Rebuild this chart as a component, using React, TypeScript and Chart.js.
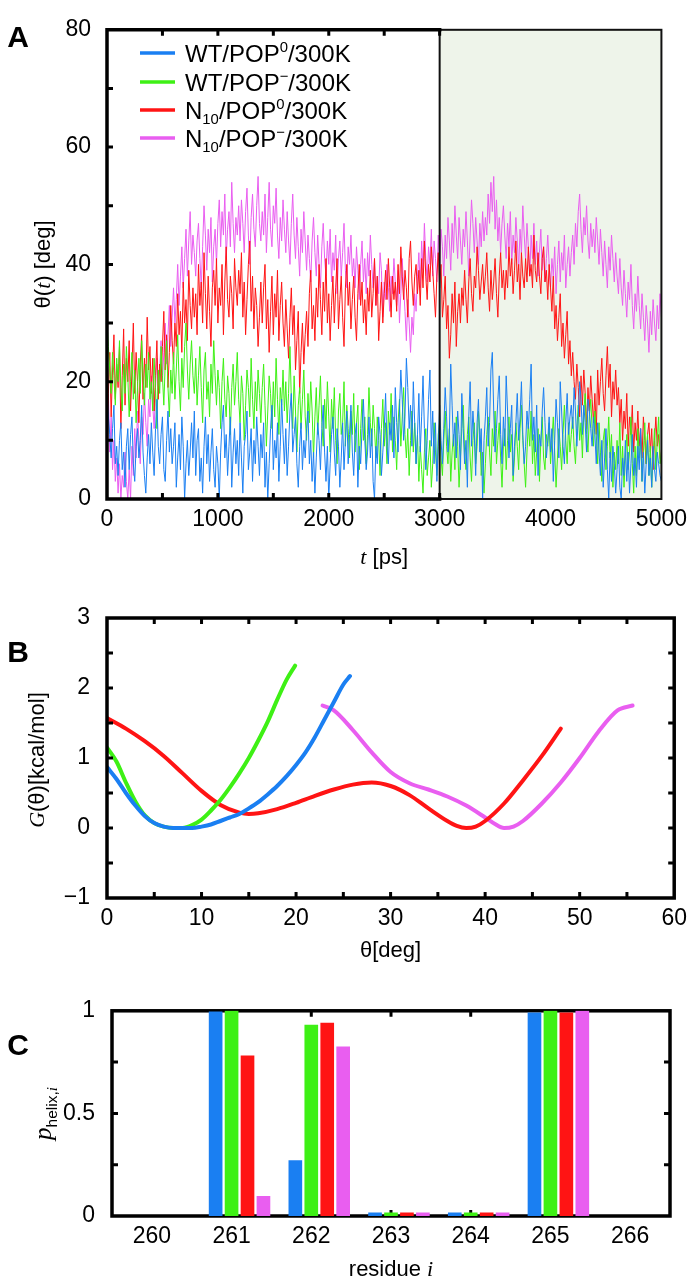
import React, { useEffect, useRef } from 'react';
import { Chart, registerables } from 'chart.js';

Chart.register(...registerables);

const FONT = '"Liberation Sans", Arial, Helvetica, sans-serif';
const SERIF = '"Liberation Serif", "Times New Roman", serif';

const COLORS = ['#1a7ff2', '#3ef015', '#ff1414', '#e95ef0'];
const SHADE = '#eef4ea';

// ---------- Panel A : theta(t) ----------
const TIME_STEP_PS = 12.5;
const SHADE_FROM = 3000;
const SHADE_TO = 5000;
const thetaWT0 = [
  18, 14, 11, 7, 12, 16, 6, 9, 4, 10, 13, 5, 8, 2, 9, 12,
  5, 11, 14, 6, 3, 9, 12, 7, 10, 16, 8, 4, 1, 7, 11, 6,
  13, 8, 4, 12, 17, 9, 6, 11, 14, 5, 3, 10, 15, 8, 12, 6,
  9, 13, 2, 7, 11, 5, 14, 9, 0, 6, 10, 4, 8, 13, 7, 15,
  4, 10, 12, 3, 7, 1, 9, 14, 6, 11, 3, 8, 12, 5, 2, 9,
  6, 0, 8, 13, 16, 7, 11, 4, 9, 14, 2, 8, 12, 6, 10, 4,
  13, 7, 1, 9, 11, 15, 5, 8, 12, 3, 10, 6, 14, 9, 4, 11,
  7, 13, 2, 8, 0, 6, 12, 16, 5, 10, 7, 13, 3, 9, 17, 11,
  6, 12, 4, 9, 15, 18, 8, 11, 14, 6, 2, 9, 13, 5, 10, 7,
  12, 15, 6, 10, 3, 8, 1, 7, 13, 10, 5, 12, 16, 8, 3, 9,
  0, 6, 11, 14, 8, 4, 12, 9, 2, 7, 13, 5, 10, 15, 6, 11,
  16, 8, 4, 11, 13, 2, 9, 6, 12, 17, 10, 5, 8, 14, 7, 12,
  3, 0, 9, 6, 14, 11, 4, 8, 12, 18, 9, 6, 13, 10, 16, 7,
  19, 13, 8, 15, 22, 17, 10, 14, 24, 19, 12, 16, 9, 20, 13, 6,
  11, 18, 8, 14, 21, 12, 5, 10, 17, 22, 9, 15, 6, 13, 3, 9,
  16, 10, 6, 12, 19, 14, 8, 11, 23, 16, 9, 13, 7, 15, 11, 5,
  18, 12, 6, 10, 2, 14, 20, 9, 15, 11, 4, 13, 17, 8, 12, 0,
  10, 14, 19, 9, 13, 22, 25, 15, 8, 12, 17, 21, 11, 6, 14, 9,
  21, 15, 7, 12, 16, 4, 9, 13, 18, 10, 14, 20, 11, 6, 9, 15,
  12, 17, 23, 10, 14, 8, 16, 4, 11, 9, 15, 19, 13, 7, 10, 14,
  8, 12, 3, 10, 17, 13, 7, 20, 15, 9, 6, 13, 18, 11, 14, 16,
  12, 19, 15, 9, 14, 20, 17, 11, 16, 13, 8, 17, 15, 12, 9, 14,
  11, 6, 13, 8, 4, 10, 2, 7, 12, 5, 0, 8, 3, 9, 6, 1,
  5, 9, 2, 0, 7, 4, 10, 3, 8, 1, 6, 11, 4, 7, 2, 9,
  5, 12, 3, 8, 1, 6, 10, 4, 7, 2, 9, 5, 3, 8, 6, 4,
  3,
];
const thetaWTm = [
  30, 26, 22, 18, 25, 21, 16, 24, 20, 27, 19, 15, 23, 18, 26, 21,
  14, 20, 25, 17, 22, 13, 19, 24, 18, 27, 21, 16, 23, 19, 25, 17,
  20, 15, 24, 19, 12, 22, 18, 26, 21, 16, 23, 27, 19, 14, 22, 18,
  25, 17, 22, 28, 20, 15, 24, 19, 26, 30, 22, 17, 23, 27, 21, 18,
  24, 16, 21, 26, 19, 13, 22, 25, 17, 20, 14, 23, 18, 27, 21, 16,
  22, 19, 12, 20, 24, 17, 14, 21, 18, 11, 19, 23, 16, 20, 25, 17,
  13, 21, 18, 10, 16, 22, 19, 14, 24, 17, 12, 20, 15, 22, 18, 13,
  19, 23, 16, 9, 15, 21, 18, 12, 20, 14, 24, 17, 11, 19, 16, 22,
  15, 20, 13, 18, 26, 17, 12, 21, 15, 8, 16, 19, 12, 17, 22, 14,
  10, 18, 13, 20, 15, 7, 14, 19, 11, 16, 21, 13, 9, 17, 12, 20,
  14, 8, 17, 12, 19, 10, 6, 15, 18, 11, 13, 20, 9, 16, 12, 7,
  15, 11, 18, 8, 13, 16, 5, 12, 17, 10, 14, 6, 11, 19, 13, 9,
  16, 12, 7, 14, 10, 4, 12, 17, 9, 13, 6, 15, 11, 18, 8, 14,
  10, 5, 13, 17, 9, 14, 19, 11, 7, 12, 4, 10, 15, 8, 13, 6,
  11, 3, 9, 5, 1, 8, 12, 4, 7, 10, 2, 6, 13, 8, 4, 11,
  13, 7, 4, 10, 15, 9, 6, 12, 3, 8, 11, 5, 14, 9, 2, 7,
  12, 16, 8, 5, 11, 14, 7, 3, 10, 13, 6, 9, 15, 11, 4, 8,
  1, 6, 11, 14, 8, 4, 12, 9, 15, 6, 10, 13, 7, 2, 9, 12,
  5, 10, 14, 8, 11, 3, 7, 13, 9, 5, 12, 16, 10, 6, 2, 8,
  13, 9, 15, 6, 11, 4, 8, 12, 3, 10, 14, 7, 5, 11, 9, 13,
  6, 10, 14, 8, 2, 7, 12, 9, 5, 11, 16, 10, 6, 13, 8, 11,
  14, 9, 6, 12, 16, 10, 13, 7, 15, 18, 11, 8, 14, 17, 12, 9,
  15, 11, 6, 13, 8, 3, 10, 12, 5, 9, 14, 7, 11, 2, 8, 5,
  10, 6, 13, 4, 9, 2, 7, 11, 5, 8, 14, 6, 1, 9, 4, 12,
  7, 10, 3, 8, 13, 6, 11, 4, 9, 2, 7, 12, 5, 10, 14, 6,
  8,
];
const thetaN0 = [
  5, 18, 25, 14, 22, 28, 17, 23, 19, 26, 12, 21, 29, 16, 24, 20,
  27, 15, 22, 30, 18, 25, 20, 13, 23, 28, 17, 24, 19, 31, 22, 26,
  18, 24, 15, 21, 27, 17, 23, 20, 26, 32, 22, 28, 19, 25, 33, 27,
  23, 30, 26, 35, 28, 32, 25, 37, 30, 34, 27, 39, 33, 29, 36, 31,
  35, 28, 40, 33, 37, 30, 42, 35, 29, 38, 32, 26, 36, 39, 33, 41,
  30, 36, 33, 40, 28, 37, 43, 34, 31, 38, 35, 29, 41, 36, 33, 39,
  35, 42, 31, 37, 28, 34, 40, 44, 32, 38, 29, 36, 33, 26, 31, 37,
  30, 36, 40, 29, 34, 25, 32, 38, 28, 35, 31, 39, 27, 33, 37, 30,
  26, 34, 29, 24, 31, 36, 28, 33, 22, 27, 32, 18, 25, 30, 23, 28,
  32, 26, 35, 39, 29, 33, 27, 36, 31, 40, 34, 28, 37, 32, 41, 30,
  35, 27, 33, 38, 30, 36, 41, 29, 34, 38, 31, 26, 36, 40, 33, 37,
  29, 34, 38, 31, 27, 35, 40, 33, 37, 30, 34, 28, 36, 32, 39, 31,
  35, 41, 33, 38, 27, 32, 37, 30, 35, 39, 34, 41, 36, 31, 38, 34,
  37, 32, 40, 35, 43, 38, 34, 39, 36, 31, 41, 44, 37, 33, 38, 40,
  35, 39, 33, 41, 36, 44, 38, 34, 40, 37, 43, 39, 35, 31, 38, 42,
  36, 40, 31, 34, 38, 29, 33, 24, 28, 35, 30, 37, 26, 32, 35, 30,
  36, 33, 39, 34, 30, 37, 41, 35, 32, 38, 36, 43, 39, 34, 37, 40,
  35, 38, 42, 36, 32, 39, 34, 37, 41, 35, 31, 38, 42, 36, 39, 34,
  39, 36, 43, 38, 41, 35, 39, 44, 37, 40, 34, 42, 38, 36, 41, 37,
  43, 38, 40, 36, 45, 39, 37, 42, 38, 35, 41, 43, 37, 39, 34, 40,
  36, 32, 38, 29, 33, 27, 31, 35, 26, 30, 24, 28, 32, 23, 27, 21,
  25, 20, 17, 23, 19, 14, 21, 16, 22, 18, 12, 19, 15, 21, 17, 13,
  18, 11, 22, 16, 20, 24, 18, 15, 21, 26, 19, 23, 14, 20, 17, 22,
  16, 19, 13, 17, 10, 15, 12, 18, 9, 14, 11, 16, 8, 13, 10, 15,
  9, 12, 7, 14, 10, 6, 11, 13, 8, 12, 5, 10, 14, 9, 11, 7,
  6,
];
const thetaNm = [
  12, 18, 8, 14, 5, 10, 3, 7, 1, 6, 0, 4, 2, 8, 3, 0,
  5, 0, 9, 4, 12, 7, 15, 10, 6, 14, 11, 18, 13, 9, 17, 14,
  21, 16, 12, 19, 24, 18, 22, 27, 20, 25, 30, 23, 28, 33, 26, 31,
  36, 30, 34, 40, 33, 38, 43, 36, 41, 46, 38, 44, 49, 40, 45, 42,
  38, 44, 47, 41, 36, 43, 50, 45, 39, 46, 42, 48, 37, 43, 46, 40,
  47, 51, 43, 49, 45, 52, 41, 46, 49, 43, 54, 47, 42, 48, 45, 50,
  44, 51, 47, 42, 49, 53, 45, 40, 48, 52, 46, 43, 50, 55, 47, 44,
  49, 45, 52, 42, 48, 54, 46, 43, 50, 47, 53, 45, 41, 48, 44, 51,
  46, 42, 49, 44, 40, 47, 52, 45, 41, 48, 43, 38, 46, 42, 49, 44,
  39, 45, 41, 37, 44, 48, 42, 38, 45, 40, 36, 43, 47, 41, 38, 44,
  40, 46, 37, 42, 39, 45, 35, 41, 44, 38, 42, 47, 39, 36, 43, 40,
  45, 38, 41, 36, 43, 39, 34, 40, 44, 37, 41, 35, 42, 38, 45, 40,
  36, 41, 33, 38, 35, 42, 39, 31, 37, 34, 40, 36, 32, 38, 35, 41,
  37, 33, 39, 30, 35, 41, 36, 32, 27, 34, 30, 25, 31, 28, 35, 32,
  38, 42, 36, 44, 39, 47, 41, 37, 43, 40, 46, 38, 44, 41, 37, 45,
  40, 46, 43, 38, 45, 41, 48, 44, 39, 47, 42, 50, 45, 41, 48, 44,
  40, 46, 43, 49, 44, 38, 45, 51, 47, 42, 48, 44, 40, 47, 43, 49,
  44, 48, 45, 52, 47, 54, 49, 55, 46, 51, 44, 48, 42, 47, 50, 45,
  41, 47, 43, 49, 40, 45, 42, 48, 44, 39, 46, 42, 50, 45, 41, 47,
  43, 38, 45, 41, 47, 40, 44, 38, 42, 46, 39, 43, 37, 41, 45, 40,
  36, 41, 38, 43, 35, 40, 44, 37, 42, 39, 45, 36, 40, 43, 38, 42,
  45, 40, 47, 43, 49, 52, 46, 42, 48, 45, 50, 44, 41, 47, 43, 46,
  42, 48, 44, 40, 46, 42, 38, 44, 40, 36, 43, 39, 45, 41, 37, 42,
  38, 35, 41, 36, 33, 39, 35, 31, 37, 34, 40, 33, 29, 35, 32, 38,
  33, 29, 35, 31, 27, 33, 30, 25, 32, 28, 34, 30, 27, 33, 29, 35,
  31,
];
const A_SERIES = [thetaWT0, thetaWTm, thetaN0, thetaNm];
const A_X_TICK_MARKS = [500, 1000, 1500, 2000, 2500, 3000];
const A_Y_TICK_MARKS = [10, 20, 30, 40, 50, 60, 70];

// ---------- Panel B : G(theta) ----------
const bThetaWT0 = [0, 1, 2, 3, 4, 5, 6, 7, 8, 9, 10, 11, 12, 13, 14, 15, 16, 17, 18, 19, 20, 21, 22, 23, 24, 25, 25.7];
const bGWT0 = [0.87, 0.7, 0.5, 0.32, 0.17, 0.07, 0.02, 0.0, 0.0, 0.0, 0.02, 0.05, 0.1, 0.15, 0.2, 0.28, 0.37, 0.48, 0.6, 0.74, 0.9, 1.08, 1.3, 1.55, 1.8, 2.05, 2.17];
const bThetaWTm = [0, 1, 2, 3, 4, 5, 6, 7, 8, 9, 10, 11, 12, 13, 14, 15, 16, 17, 18, 19, 19.9];
const bGWTm = [1.15, 0.95, 0.65, 0.38, 0.18, 0.07, 0.02, 0.0, 0.0, 0.04, 0.12, 0.25, 0.4, 0.58, 0.78, 1.0, 1.25, 1.52, 1.83, 2.12, 2.32];
const bThetaN0 = [0, 2, 4, 6, 8, 10, 12, 14, 15, 16, 18, 20, 22, 24, 26, 28, 30, 32, 34, 36, 37, 38, 39, 40, 42, 44, 46, 48];
const bGN0 = [1.57, 1.42, 1.24, 1.03, 0.78, 0.53, 0.33, 0.22, 0.2, 0.21, 0.27, 0.36, 0.46, 0.55, 0.62, 0.65, 0.6, 0.47, 0.28, 0.1, 0.03, 0.0, 0.02, 0.1, 0.35, 0.68, 1.03, 1.42];
const bThetaNm = [22.8, 24, 26, 28, 30, 32, 34, 36, 38, 40, 41, 42, 43, 44, 46, 48, 50, 52, 54, 55.6];
const bGNm = [1.75, 1.68, 1.4, 1.08, 0.8, 0.64, 0.55, 0.45, 0.32, 0.15, 0.06, 0.0, 0.02, 0.1, 0.35, 0.65, 1.0, 1.38, 1.68, 1.75];
const B_X = [bThetaWT0, bThetaWTm, bThetaN0, bThetaNm];
const B_Y = [bGWT0, bGWTm, bGN0, bGNm];
const B_X_TICK_MARKS = [5, 10, 15, 20, 25, 30, 35, 40, 45, 50, 55];
const B_Y_TICK_MARKS = [-0.5, 0, 0.5, 1, 1.5, 2, 2.5];

// ---------- Panel C : p_helix ----------
const residues = [261, 262, 263, 264, 265];
const pHelixWT0 = [0.995, 0.27, 0.015, 0.015, 0.99];
const pHelixWTm = [1.0, 0.93, 0.015, 0.015, 1.0];
const pHelixN0 = [0.78, 0.94, 0.015, 0.015, 0.99];
const pHelixNm = [0.096, 0.825, 0.015, 0.015, 1.0];
const C_SERIES = [pHelixWT0, pHelixWTm, pHelixN0, pHelixNm];
const C_BAR_OFFSETS = [-0.2, 0, 0.2, 0.4];
const C_X_TICK_MARKS = [261, 262, 263, 264, 265];
const C_Y_TICK_MARKS = [0.25, 0.5, 0.75];

type Part = { t: string; italic?: boolean; serif?: boolean; sup?: boolean; sub?: boolean; bold?: boolean };

const LEGEND: Part[][] = [
  [{ t: 'WT/POP' }, { t: '0', sup: true }, { t: '/300K' }],
  [{ t: 'WT/POP' }, { t: '\u2212', sup: true }, { t: '/300K' }],
  [{ t: 'N' }, { t: '10', sub: true }, { t: '/POP' }, { t: '0', sup: true }, { t: '/300K' }],
  [{ t: 'N' }, { t: '10', sub: true }, { t: '/POP' }, { t: '\u2212', sup: true }, { t: '/300K' }],
];

function drawRich(ctx: CanvasRenderingContext2D, parts: Part[], x: number, y: number, size: number, rotate = false, align = 'center') {
  ctx.save();
  ctx.translate(x, y);
  if (rotate) ctx.rotate(-Math.PI / 2);
  const fontFor = (p: Part) => {
    const s = p.sup || p.sub ? size * 0.62 : size;
    const fam = p.serif ? SERIF : FONT;
    return `${p.italic ? 'italic ' : ''}${p.bold ? 'bold ' : ''}${s}px ${fam}`;
  };
  let total = 0;
  const widths = parts.map((p) => {
    ctx.font = fontFor(p);
    const w = ctx.measureText(p.t).width;
    total += w;
    return w;
  });
  let cx = align === 'center' ? -total / 2 : 0;
  ctx.textAlign = 'left';
  ctx.textBaseline = 'alphabetic';
  ctx.fillStyle = '#000';
  const base = size * 0.36;
  parts.forEach((p, i) => {
    ctx.font = fontFor(p);
    const dy = p.sup ? -size * 0.4 : p.sub ? size * 0.22 : 0;
    ctx.fillText(p.t, cx, base + dy);
    cx += widths[i];
  });
  ctx.restore();
}

function tickMarks(chart: any, xs: number[], ys: number[], sides: { top?: boolean; bottom?: boolean; left?: boolean; right?: boolean }, len = 6) {
  const { ctx, chartArea: ca, scales } = chart;
  ctx.save();
  ctx.strokeStyle = '#000';
  ctx.lineWidth = 3;
  ctx.lineCap = 'butt';
  ctx.beginPath();
  xs.forEach((v) => {
    const px = scales.x.getPixelForValue(v);
    if (sides.bottom) { ctx.moveTo(px, ca.bottom); ctx.lineTo(px, ca.bottom - len); }
    if (sides.top) { ctx.moveTo(px, ca.top); ctx.lineTo(px, ca.top + len); }
  });
  ys.forEach((v) => {
    const py = scales.y.getPixelForValue(v);
    if (sides.left) { ctx.moveTo(ca.left, py); ctx.lineTo(ca.left + len, py); }
    if (sides.right) { ctx.moveTo(ca.right, py); ctx.lineTo(ca.right - len, py); }
  });
  ctx.stroke();
  ctx.restore();
}

function frame(chart: any, width = 3.5) {
  const { ctx, chartArea: ca } = chart;
  ctx.save();
  ctx.strokeStyle = '#000';
  ctx.lineWidth = width;
  ctx.lineJoin = 'miter';
  ctx.strokeRect(ca.left, ca.top, ca.right - ca.left, ca.bottom - ca.top);
  ctx.restore();
}

const plainLabel = (v: any) => {
  const n = Number(v);
  return n < 0 ? '\u2212' + Math.abs(n) : String(n);
};

function linScale(min: number, max: number, step: number, pad: number, fit: (s: any) => void) {
  return {
    type: 'linear',
    min,
    max,
    grid: { display: false, drawTicks: false, tickLength: 0 },
    border: { display: false },
    afterFit: fit,
    ticks: {
      stepSize: step,
      autoSkip: false,
      maxRotation: 0,
      padding: pad,
      color: '#000',
      font: { family: FONT, size: 23 },
      callback: plainLabel,
    },
  };
}

const noPlugins = { legend: { display: false }, tooltip: { enabled: false }, title: { display: false } };

export default function App() {
  const aRef = useRef<HTMLCanvasElement>(null);
  const bRef = useRef<HTMLCanvasElement>(null);
  const cRef = useRef<HTMLCanvasElement>(null);

  useEffect(() => {
    const charts: Chart[] = [];

    // Panel A
    const aPlugin = {
      id: 'panelA',
      beforeDatasetsDraw(chart: any) {
        const { ctx, chartArea: ca, scales } = chart;
        const x0 = scales.x.getPixelForValue(SHADE_FROM);
        const x1 = scales.x.getPixelForValue(SHADE_TO);
        ctx.save();
        ctx.fillStyle = SHADE;
        ctx.fillRect(x0, ca.top, x1 - x0, ca.bottom - ca.top);
        ctx.restore();
      },
      afterDatasetsDraw(chart: any) {
        const { ctx, chartArea: ca, scales } = chart;
        const x3 = scales.x.getPixelForValue(SHADE_FROM);
        const x5 = scales.x.getPixelForValue(SHADE_TO);
        ctx.save();
        ctx.strokeStyle = '#111';
        ctx.lineWidth = 2;
        ctx.strokeRect(x3, ca.top, x5 - x3, ca.bottom - ca.top);
        ctx.strokeStyle = '#000';
        ctx.lineWidth = 3.5;
        ctx.lineCap = 'square';
        ctx.beginPath();
        ctx.moveTo(x3, ca.top);
        ctx.lineTo(ca.left, ca.top);
        ctx.lineTo(ca.left, ca.bottom);
        ctx.lineTo(x3, ca.bottom);
        ctx.stroke();
        ctx.restore();
        tickMarks(chart, A_X_TICK_MARKS, A_Y_TICK_MARKS, { top: true, bottom: true, left: true });
      },
      afterDraw(chart: any) {
        const { ctx, chartArea: ca } = chart;
        drawRich(ctx, [{ t: 'A', bold: true }], 18, 36, 30);
        drawRich(ctx, [{ t: '\u03b8(' }, { t: 't', italic: true, serif: true }, { t: ') [deg]' }], 42, (ca.top + ca.bottom) / 2, 22, true);
        drawRich(ctx, [{ t: 't', italic: true, serif: true }, { t: ' [ps]' }], (ca.left + ca.right) / 2, 556, 22);
        const rows = [53, 82, 110, 138];
        LEGEND.forEach((parts, i) => {
          ctx.save();
          ctx.strokeStyle = COLORS[i];
          ctx.lineWidth = 3.5;
          ctx.beginPath();
          ctx.moveTo(140, rows[i]);
          ctx.lineTo(175, rows[i]);
          ctx.stroke();
          ctx.restore();
          drawRich(ctx, parts, 185, rows[i], 24, false, 'left');
        });
      },
    };
    if (aRef.current) {
      charts.push(
        new Chart(aRef.current, {
          type: 'line',
          data: {
            datasets: A_SERIES.map((s, i) => ({
              data: s.map((v, k) => ({ x: k * TIME_STEP_PS, y: v })),
              borderColor: COLORS[i],
              borderWidth: 1,
              pointRadius: 0,
              tension: 0,
              fill: false,
            })),
          },
          options: {
            responsive: false,
            animation: false,
            layout: { padding: { top: 12, right: 29, left: 0, bottom: 0 } },
            plugins: noPlugins,
            scales: {
              x: linScale(0, 5000, 1000, 7, (s: any) => { s.height = 81; }),
              y: linScale(0, 80, 20, 16, (s: any) => { s.width = 107; }),
            },
          } as any,
          plugins: [aPlugin],
        })
      );
    }

    // Panel B
    const bPlugin = {
      id: 'panelB',
      afterDatasetsDraw(chart: any) {
        frame(chart);
        tickMarks(chart, B_X_TICK_MARKS, B_Y_TICK_MARKS, { top: true, bottom: true, left: true, right: true });
      },
      afterDraw(chart: any) {
        const { ctx, chartArea: ca } = chart;
        drawRich(ctx, [{ t: 'B', bold: true }], 18, 71, 30);
        drawRich(ctx, [{ t: 'G', italic: true, serif: true }, { t: '(\u03b8)[kcal/mol]' }], 36, 180, 22, true);
        drawRich(ctx, [{ t: '\u03b8[deg]' }], (ca.left + ca.right) / 2, 369, 22);
      },
    };
    if (bRef.current) {
      charts.push(
        new Chart(bRef.current, {
          type: 'line',
          data: {
            datasets: B_X.map((xs, i) => ({
              data: xs.map((x, k) => ({ x, y: B_Y[i][k] })),
              borderColor: COLORS[i],
              borderWidth: 4,
              borderCapStyle: 'round',
              pointRadius: 0,
              cubicInterpolationMode: 'monotone',
              fill: false,
            })),
          },
          options: {
            responsive: false,
            animation: false,
            layout: { padding: { top: 38, right: 17, left: 0, bottom: 0 } },
            plugins: noPlugins,
            scales: {
              x: linScale(0, 60, 10, 7, (s: any) => { s.height = 82; }),
              y: linScale(-1, 3, 1, 17, (s: any) => { s.width = 107; }),
            },
          } as any,
          plugins: [bPlugin],
        })
      );
    }

    // Panel C
    const cPlugin = {
      id: 'panelC',
      beforeDatasetsDraw(chart: any) {
        frame(chart);
        tickMarks(chart, C_X_TICK_MARKS, C_Y_TICK_MARKS, { top: true, bottom: true, left: true, right: true });
      },
      afterDraw(chart: any) {
        const { ctx, chartArea: ca } = chart;
        drawRich(ctx, [{ t: 'C', bold: true }], 18, 64, 30);
        drawRich(ctx, [{ t: 'p', italic: true, serif: true }, { t: 'helix,', sub: true }, { t: 'i', italic: true, serif: true, sub: true }], 42, (ca.top + ca.bottom) / 2, 25, true);
        drawRich(ctx, [{ t: 'residue ' }, { t: 'i', italic: true, serif: true }], (ca.left + ca.right) / 2, 288, 22);
      },
    };
    if (cRef.current) {
      charts.push(
        new Chart(cRef.current, {
          type: 'bar',
          data: {
            datasets: C_SERIES.map((s, i) => ({
              data: residues.map((r, k) => ({ x: r + C_BAR_OFFSETS[i], y: s[k] })),
              backgroundColor: COLORS[i],
              borderWidth: 0,
              barThickness: 13,
              grouped: false,
            })),
          },
          options: {
            responsive: false,
            animation: false,
            layout: { padding: { top: 28, right: 24, left: 0, bottom: 0 } },
            plugins: noPlugins,
            scales: {
              x: linScale(260, 266, 1, 7, (s: any) => { s.height = 64; }),
              y: linScale(0, 1, 0.5, 17, (s: any) => { s.width = 112; }),
            },
          } as any,
          plugins: [cPlugin],
        })
      );
    }

    return () => charts.forEach((c) => c.destroy());
  }, []);

  return (
    <div style={{ position: 'absolute', left: 0, top: 0, width: 694, height: 1280, background: '#fff' }}>
      <canvas ref={aRef} width={694} height={580} style={{ display: 'block' }} />
      <canvas ref={bRef} width={694} height={400} style={{ display: 'block' }} />
      <canvas ref={cRef} width={694} height={300} style={{ display: 'block' }} />
    </div>
  );
}
